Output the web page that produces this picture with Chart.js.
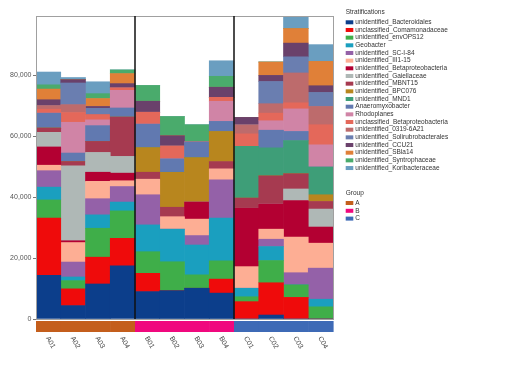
<!DOCTYPE html>
<html>
<head>
<meta charset="utf-8">
<title>Stratifications</title>
<script src="https://cdn.jsdelivr.net/npm/chart.js@4.4.1/dist/chart.umd.min.js"></script>
<style>
  html, body { margin: 0; padding: 0; background: #fff; }
  #wrap { width: 510px; height: 374px; }
</style>
</head>
<body>
<div id="wrap"><canvas id="stratChart" width="510" height="374"></canvas></div>
<script>
// samples + groups
const samples = ["A01", "A02", "A03", "A04", "B01", "B02", "B03", "B04", "C01", "C02", "C03", "C04"];
const sampleGroups = ["A", "A", "A", "A", "B", "B", "B", "B", "C", "C", "C", "C"];
const groupNames = ["A", "B", "C"];
const groupColors = ["#c45e1c", "#f0087e", "#3e6ab6"];
const yTicks = [0, 20000, 40000, 60000, 80000];
const yMax = 99500;

const taxa = [
  "unidentified_Bacteroidales",
  "unclassified_Comamonadaceae",
  "unidentified_envOPS12",
  "Geobacter",
  "unidentified_SC-I-84",
  "unidentified_III1-15",
  "unidentified_Betaproteobacteria",
  "unidentified_Gaiellaceae",
  "unidentified_MBNT15",
  "unidentified_BPC076",
  "unidentified_MND1",
  "Anaeromyxobacter",
  "Rhodoplanes",
  "unclassified_Betaproteobacteria",
  "unidentified_0319-6A21",
  "unidentified_Solirubrobacterales",
  "unidentified_CCU21",
  "unidentified_SBla14",
  "unidentified_Syntrophaceae",
  "unidentified_Koribacteraceae"
];
const taxaColors = [
  "#0c3e8b", "#ef0b0b", "#3fae49", "#1a9fbf", "#9461a8",
  "#fdae94", "#b30032", "#afb8b6", "#a63a50", "#b8861e",
  "#3e9e78", "#6179b0", "#d084a6", "#e4685a", "#bd6b6c",
  "#6a7eb0", "#6a416b", "#e08038", "#4aab6c", "#6a9ec0"
];

// abundance per taxon, in sample order A01..C04
const bacteroidales   = [14300, 4400, 11500, 17500, 9000, 9300, 10100, 8500, 0, 1300, 0, 0];
const comamonadaceae  = [18800, 5500, 8800, 9000, 6000, 0, 0, 4600, 5700, 10600, 7100, 0];
const envOPS12        = [6000, 2700, 9500, 9000, 7100, 9500, 4400, 6000, 1600, 7300, 4100, 4000];
const geobacter       = [4200, 1200, 4400, 2900, 8800, 10700, 9800, 14000, 2800, 4600, 0, 2500];
const scI84           = [5400, 4900, 5300, 5100, 9900, 0, 3100, 12600, 0, 2400, 4000, 10200];
const iii115          = [1800, 6400, 5700, 1900, 5100, 4100, 5400, 3600, 7100, 3300, 11700, 8200];
const betaproteoUnid  = [6000, 600, 3000, 2500, 0, 0, 5600, 0, 19200, 8300, 12000, 5300];
const gaiellaceae     = [4800, 24600, 6500, 5500, 0, 0, 0, 0, 0, 0, 3800, 5900];
const mbnt15          = [1400, 1400, 3600, 12900, 2300, 3100, 0, 2400, 3300, 9200, 5000, 2500];
const bpc076          = [0, 0, 0, 0, 8100, 11500, 14600, 9900, 0, 0, 0, 2200];
const mnd1            = [0, 0, 0, 0, 0, 0, 0, 0, 17000, 9200, 10900, 9100];
const anaeromyxo      = [4900, 2800, 5200, 3000, 7700, 4400, 5100, 3300, 0, 5800, 3000, 0];
const rhodoplanes     = [0, 10100, 1900, 5800, 0, 0, 0, 6600, 0, 3100, 7400, 7300];
const betaproteoUncl  = [1300, 3200, 1700, 800, 3900, 4200, 0, 1300, 4100, 2500, 2000, 6600];
const a0319_6A21      = [1200, 2600, 0, 0, 0, 0, 0, 0, 3000, 3100, 9800, 6000];
const solirubro       = [0, 7100, 2100, 0, 0, 0, 0, 0, 0, 7300, 5300, 4600];
const ccu21           = [1900, 1100, 600, 1400, 3600, 3400, 0, 3300, 2400, 2000, 4500, 2200];
const sbla14          = [3500, 0, 2600, 3300, 0, 0, 0, 0, 0, 4400, 4800, 8000];
const syntrophaceae   = [1400, 0, 1600, 1200, 5200, 6300, 5700, 3600, 0, 0, 0, 0];
const koribacteraceae = [4200, 700, 3900, 0, 0, 0, 0, 5100, 0, 0, 4000, 5500];

const taxaValues = [
  bacteroidales, comamonadaceae, envOPS12, geobacter, scI84,
  iii115, betaproteoUnid, gaiellaceae, mbnt15, bpc076,
  mnd1, anaeromyxo, rhodoplanes, betaproteoUncl, a0319_6A21,
  solirubro, ccu21, sbla14, syntrophaceae, koribacteraceae
];

const FONT = "'Liberation Sans', Arial, sans-serif";

// frame, group separators, group strip, rotated labels, legend
const decorPlugin = {
  id: "decor",
  afterDatasetsDraw(chart) {
    const { ctx, chartArea: a, scales: { x } } = chart;
    const half = (x.getPixelForValue(1) - x.getPixelForValue(0)) / 2;
    ctx.save();

    ctx.strokeStyle = "#a0a0a0";
    ctx.lineWidth = 1;
    ctx.strokeRect(a.left + 0.5, a.top + 0.5, a.right - a.left, a.bottom - a.top);

    ctx.strokeStyle = "#111";
    ctx.lineWidth = 1.5;
    for (let i = 1; i < samples.length; i++) {
      if (sampleGroups[i] !== sampleGroups[i - 1]) {
        const px = x.getPixelForValue(i) - half;
        ctx.beginPath();
        ctx.moveTo(px, a.top);
        ctx.lineTo(px, a.bottom);
        ctx.stroke();
      }
    }

    samples.forEach((s, i) => {
      const c = x.getPixelForValue(i);
      ctx.fillStyle = groupColors[groupNames.indexOf(sampleGroups[i])];
      ctx.fillRect(c - half, a.bottom + 2, half * 2 + 0.6, 11);
    });

    ctx.fillStyle = "#444";
    ctx.font = "7px " + FONT;
    ctx.textAlign = "left";
    ctx.textBaseline = "middle";
    samples.forEach((s, i) => {
      ctx.save();
      ctx.translate(x.getPixelForValue(i) - 1, a.bottom + 18);
      ctx.rotate(Math.PI / 3);
      ctx.fillText(s, 0, 0);
      ctx.restore();
    });

    // legend on the right
    const lx = a.right + 12.7;
    ctx.font = "6.5px " + FONT;
    ctx.fillStyle = "#333";
    ctx.fillText("Stratifications", lx, 12);
    taxa.forEach((t, i) => {
      const y = 22.3 + i * 7.67;
      ctx.fillStyle = taxaColors[i];
      ctx.fillRect(lx, y - 2, 7.6, 4);
      ctx.fillStyle = "#333";
      ctx.fillText(t, lx + 9.6, y);
    });
    ctx.fillText("Group", lx, 193.7);
    groupNames.forEach((g, j) => {
      const y = 203 + j * 7.8;
      ctx.fillStyle = groupColors[j];
      ctx.fillRect(lx, y - 2, 7.6, 4);
      ctx.fillStyle = "#333";
      ctx.fillText(g, lx + 9.6, y);
    });

    ctx.restore();
  }
};

const ctx = document.getElementById("stratChart").getContext("2d");
new Chart(ctx, {
  type: "bar",
  data: {
    labels: samples,
    datasets: taxa.map((t, i) => ({
      label: t,
      data: taxaValues[i],
      backgroundColor: taxaColors[i],
      borderWidth: 0,
      barPercentage: 1,
      categoryPercentage: 1
    }))
  },
  options: {
    responsive: false,
    devicePixelRatio: 1,
    animation: false,
    layout: { padding: { left: 0, top: 16, right: 177, bottom: 55 } },
    plugins: {
      legend: { display: false },
      tooltip: { enabled: false }
    },
    scales: {
      x: { stacked: true, display: false },
      y: {
        stacked: true,
        min: 0,
        max: yMax,
        afterFit: (s) => { s.width = 36; },
        afterBuildTicks: (s) => { s.ticks = yTicks.map(v => ({ value: v })); },
        border: { display: true, color: "#a0a0a0" },
        grid: { drawOnChartArea: false, drawTicks: true, tickLength: 3, color: "#777" },
        ticks: {
          padding: 1.5,
          color: "#555",
          font: { family: FONT, size: 7 },
          callback: (v) => v.toLocaleString("en-US")
        }
      }
    }
  },
  plugins: [decorPlugin]
});
</script>
</body>
</html>
